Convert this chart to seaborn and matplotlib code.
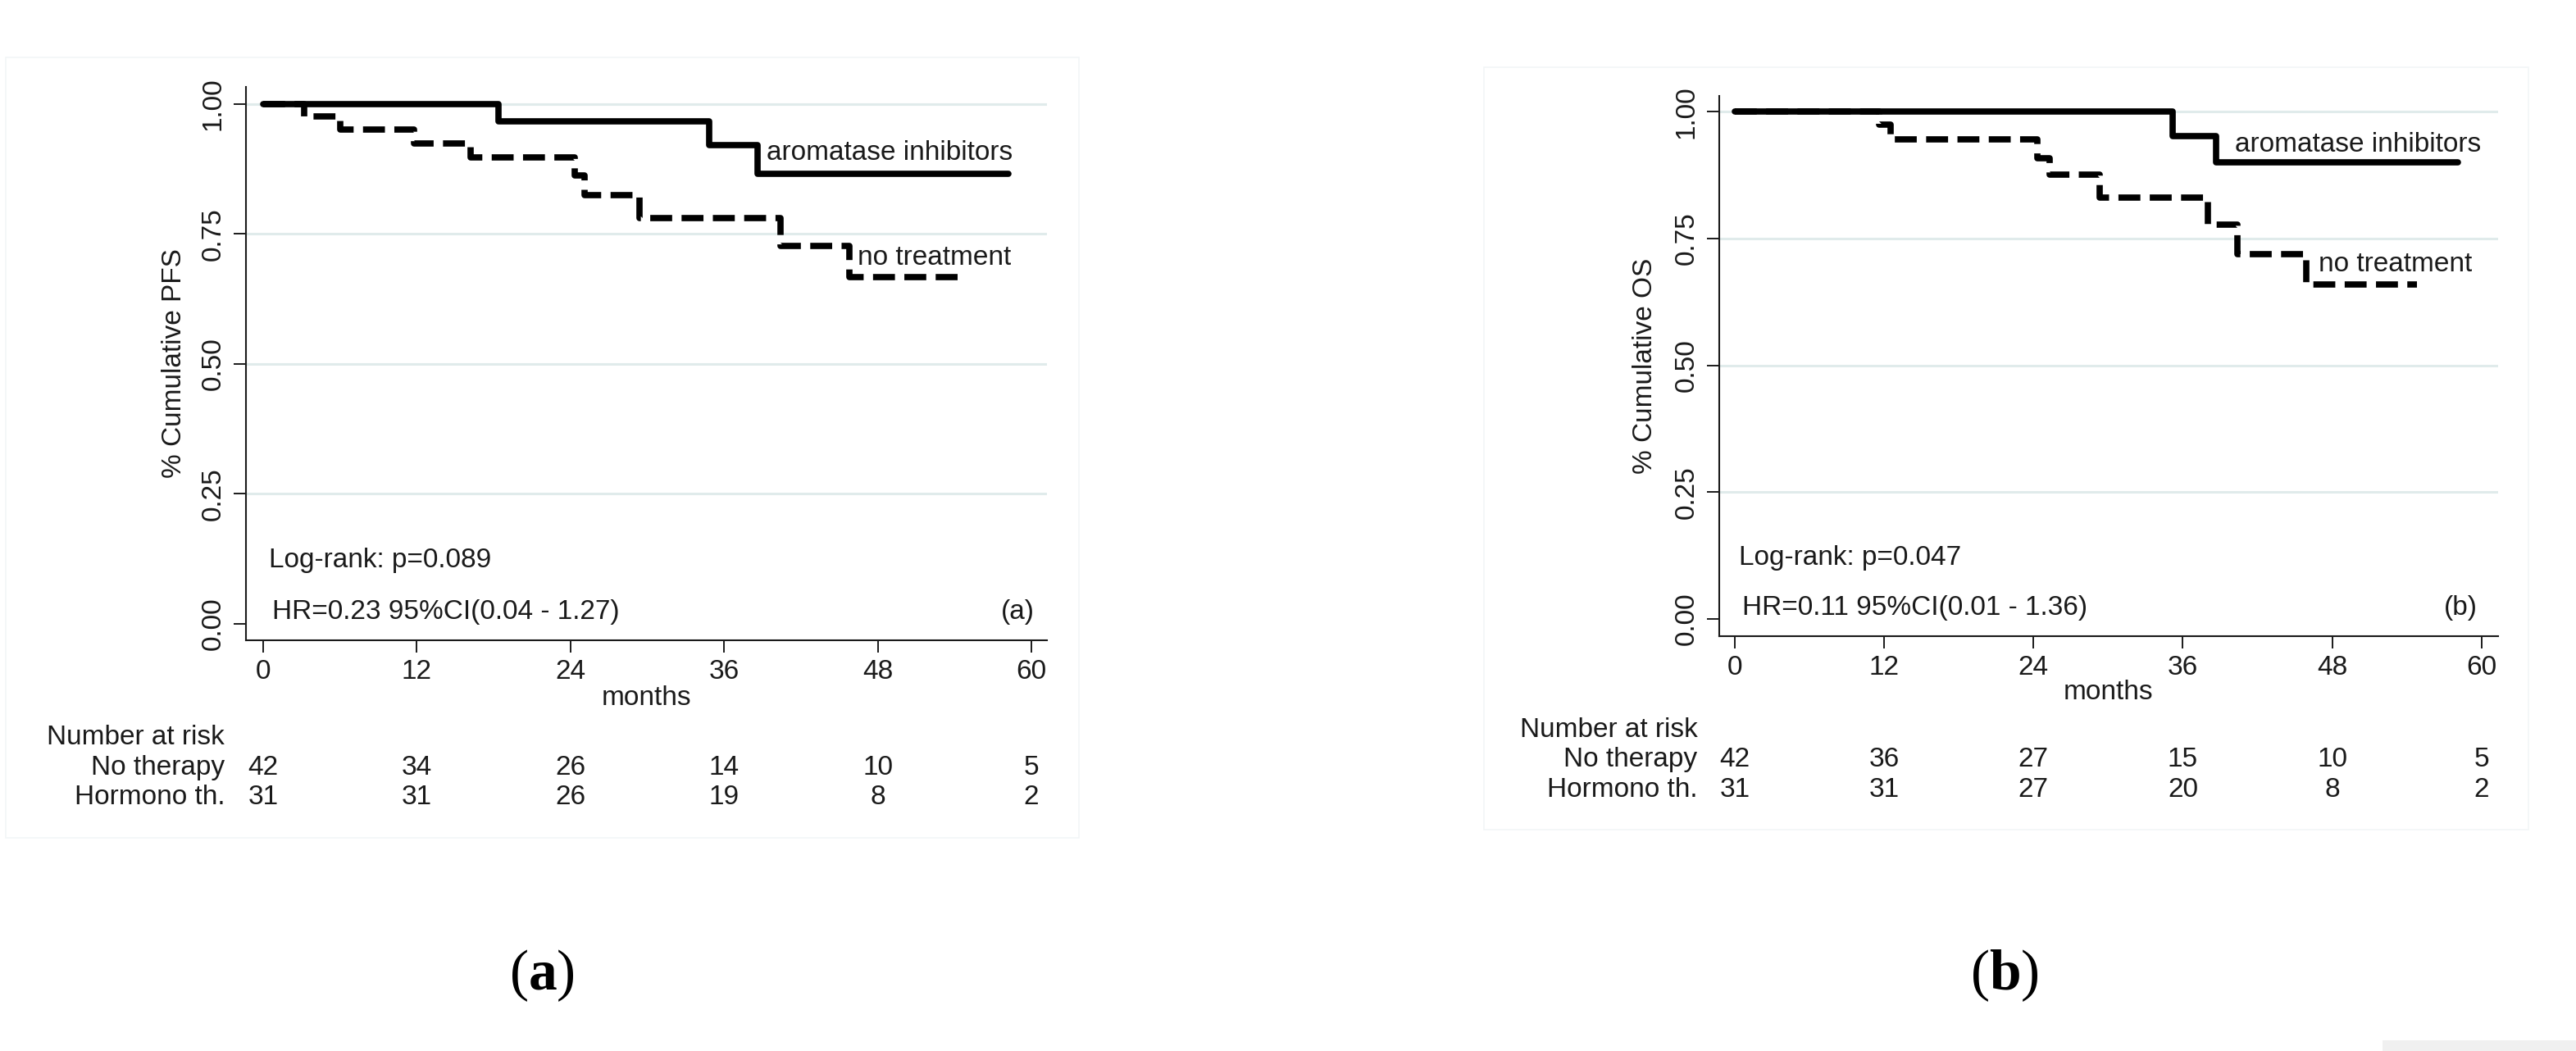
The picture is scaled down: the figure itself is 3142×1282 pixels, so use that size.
"""Kaplan-Meier curves (PFS / OS) for aromatase inhibitors vs no treatment."""

import matplotlib

matplotlib.use("Agg")
import matplotlib.pyplot as plt
import pandas as pd
import seaborn as sns
from matplotlib.patches import Rectangle

sns.set_style("ticks")
plt.rcParams["font.family"] = ["Liberation Sans", "DejaVu Sans"]
plt.rcParams["mathtext.fontset"] = "custom"
plt.rcParams["mathtext.rm"] = "Liberation Serif"
plt.rcParams["mathtext.bf"] = "Liberation Serif:bold"

MONTH_TICKS = [0, 12, 24, 36, 48, 60]
Y_TICKS = [0.0, 0.25, 0.5, 0.75, 1.0]
GRID_Y = [0.25, 0.5, 0.75, 1.0]
GROUPS = ["aromatase inhibitors", "no treatment"]

# panel (a): progression-free survival
PFS_AI_MONTHS = [0, 18.4, 34.8, 38.6, 58.2]
PFS_AI_SURV = [1.0, 0.966, 0.920, 0.866, 0.866]
PFS_NT_MONTHS = [0, 3.2, 6.0, 11.8, 16.2, 24.3, 25.1, 29.4, 40.4, 45.8, 54.6]
PFS_NT_SURV = [1.0, 0.976, 0.950, 0.924, 0.897, 0.863, 0.825, 0.781, 0.726, 0.666, 0.666]

# panel (b): overall survival
OS_AI_MONTHS = [0, 35.2, 38.7, 58.1]
OS_AI_SURV = [1.0, 0.953, 0.901, 0.901]
OS_NT_MONTHS = [0, 11.6, 12.5, 24.3, 25.3, 29.3, 38.0, 40.4, 45.9, 54.8]
OS_NT_SURV = [1.0, 0.975, 0.945, 0.909, 0.876, 0.831, 0.777, 0.720, 0.660, 0.660]

RISK_ROWS = ["No therapy", "Hormono th."]
PFS_RISK_NO = [42, 34, 26, 14, 10, 5]
PFS_RISK_HT = [31, 31, 26, 19, 8, 2]
OS_RISK_NO = [42, 36, 27, 15, 10, 5]
OS_RISK_HT = [31, 31, 27, 20, 8, 2]

FS = 24
INK = "#1a1a1a"
GRID_COLOR = "#e0ebeb"
FRAME_COLOR = "#f2f6f7"


def km_frame(ai_m, ai_s, nt_m, nt_s):
    ai = pd.DataFrame({"month": ai_m, "surv": ai_s, "group": GROUPS[0]})
    nt = pd.DataFrame({"month": nt_m, "surv": nt_s, "group": GROUPS[1]})
    return pd.concat([ai, nt], ignore_index=True)


def draw_panel(fig, rect, xlim, ylim, df, ylabel, risk, notes, labels, tag,
               ylab_x, xlab_y, risk_y):
    ax = fig.add_axes(rect)
    for y in GRID_Y:
        ax.axhline(y, color=GRID_COLOR, lw=2.2, zorder=0)

    sns.lineplot(
        data=df, x="month", y="surv", hue="group", style="group",
        palette={GROUPS[0]: "black", GROUPS[1]: "black"},
        dashes={GROUPS[0]: "", GROUPS[1]: (3.5, 1.5)},
        drawstyle="steps-post", estimator=None, sort=False,
        linewidth=5.5, legend=False, ax=ax,
    )

    ax.set_xlim(*xlim)
    ax.set_ylim(*ylim)
    ax.set_xticks(MONTH_TICKS)
    ax.set_yticks(Y_TICKS)
    ax.set_yticklabels([f"{v:.2f}" for v in Y_TICKS])
    sns.despine(ax=ax)
    for side in ["left", "bottom"]:
        ax.spines[side].set_linewidth(1.5)
        ax.spines[side].set_color(INK)
    ax.tick_params(axis="both", length=10.5, width=1.4, color=INK,
                   labelsize=FS, labelcolor=INK)
    ax.tick_params(axis="x", pad=6)
    ax.tick_params(axis="y", pad=7, labelrotation=90)
    for lab in ax.get_yticklabels():
        lab.set_va("center")

    ax.set_xlabel("months", fontsize=FS, color=INK, va="top")
    ax.xaxis.set_label_coords(0.5, xlab_y)
    ax.set_ylabel(ylabel, fontsize=FS, color=INK)
    ax.yaxis.set_label_coords(ylab_x, 0.5)

    # curve labels
    for (mx, my), text in zip(labels, GROUPS):
        ax.text(mx, my, text, fontsize=FS, color=INK, ha="left", va="center")

    # statistics notes
    (lx, ly, ltxt), (hx, hy, htxt) = notes
    ax.text(lx, ly, ltxt, fontsize=FS, color=INK, ha="left", va="center")
    ax.text(hx, hy, htxt, fontsize=FS, color=INK, ha="left", va="center")
    ax.text(tag[0], tag[1], tag[2], fontsize=FS, color=INK, ha="right", va="center")

    # number at risk table
    tr = ax.get_xaxis_transform()
    ax.text(-3.0, risk_y[0], "Number at risk", transform=tr, fontsize=FS,
            color=INK, ha="right", va="center", clip_on=False)
    for row_name, counts, yy in zip(RISK_ROWS, risk, risk_y[1:]):
        ax.text(-3.0, yy, row_name, transform=tr, fontsize=FS, color=INK,
                ha="right", va="center", clip_on=False)
        for m, c in zip(MONTH_TICKS, counts):
            ax.text(m, yy, str(c), transform=tr, fontsize=FS, color=INK,
                    ha="center", va="center", clip_on=False)
    return ax


fig = plt.figure(figsize=(31.42, 12.82), dpi=100)

# faint panel frames
fig.patches.append(Rectangle((7 / 3142, 1 - 1022 / 1282), 1309 / 3142, 952 / 1282,
                             transform=fig.transFigure, fill=False,
                             edgecolor=FRAME_COLOR, lw=1.2))
fig.patches.append(Rectangle((1810 / 3142, 1 - 1012 / 1282), 1274 / 3142, 930 / 1282,
                             transform=fig.transFigure, fill=False,
                             edgecolor=FRAME_COLOR, lw=1.2))
fig.patches.append(Rectangle((2906 / 3142, 0), 236 / 3142, 13 / 1282,
                             transform=fig.transFigure, facecolor="#f0f0f0",
                             edgecolor="none"))

draw_panel(
    fig, [0.09548, 0.39080, 0.31095, 0.52652], (-1.35, 61.21), (-0.032, 1.0327),
    km_frame(PFS_AI_MONTHS, PFS_AI_SURV, PFS_NT_MONTHS, PFS_NT_SURV),
    "% Cumulative PFS", [PFS_RISK_NO, PFS_RISK_HT],
    [(0.42, 0.121, "Log-rank: p=0.089"), (0.68, 0.023, "HR=0.23 95%CI(0.04 - 1.27)")],
    [(39.3, 0.905), (46.4, 0.704)], (60.25, 0.023, "(a)"),
    ylab_x=-0.0737, xlab_y=-0.081, risk_y=(-0.176, -0.231, -0.284),
)

draw_panel(
    fig, [0.66741, 0.39470, 0.30236, 0.51404], (-1.25, 61.33), (-0.034, 1.0315),
    km_frame(OS_AI_MONTHS, OS_AI_SURV, OS_NT_MONTHS, OS_NT_SURV),
    "% Cumulative OS", [OS_RISK_NO, OS_RISK_HT],
    [(0.34, 0.120, "Log-rank: p=0.047"), (0.62, 0.021, "HR=0.11 95%CI(0.01 - 1.36)")],
    [(40.2, 0.936), (46.9, 0.699)], (59.7, 0.021, "(b)"),
    ylab_x=-0.079, xlab_y=-0.080, risk_y=(-0.173, -0.228, -0.284),
)

# sub-figure captions
for xc, letter in [(661 / 3142, "a"), (2445 / 3142, "b")]:
    fig.text(xc, 1 - 1190 / 1282, "(" + r"$\mathbf{" + letter + "}$" + ")",
             fontsize=50, family="Liberation Serif", ha="center", va="center",
             color="black")

fig.savefig("out.png", dpi=100, facecolor="white")
